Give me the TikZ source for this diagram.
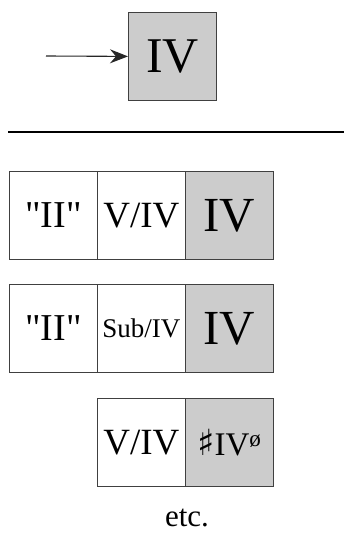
\documentclass[tikz,border=0pt]{standalone}
\usepackage{fontspec}
\setmainfont{Liberation Serif}
\newfontfamily\symfont{DejaVu Sans}
\usetikzlibrary{arrows.meta}
\tikzset{
  x=1pt,y=1pt,
  cell/.style={draw=black!75, line width=0.8pt, minimum width=88pt, minimum height=88pt, inner sep=0pt, anchor=north west},
  grey/.style={cell, fill=black!20},
  white/.style={cell, fill=white},
  bigtip/.tip={Stealth[length=18pt,width=14pt,inset=6pt]},
}
\newcommand{\fsz}[1]{\fontsize{#1}{#1}\selectfont}
\newcommand{\qII}{\textquotedbl II\textquotedbl}
\begin{document}
\begin{tikzpicture}
\useasboundingbox (0,0) rectangle (344,-533);
% top
\node[grey] (top) at (128,-12) {\fsz{50}IV};
\coordinate (start) at (46,-56);
\draw[line width=1.1pt, black!85, -bigtip] (start) -- (top.west);
% rule
\coordinate (ruleL) at (8,-132);
\coordinate (ruleR) at (344,-132);
\draw[line width=1.3pt] (ruleL) -- (ruleR);
% row 1
\node[white] (a1) at (9,-171) {\fsz{38}\qII};
\node[white] (b1) at (97,-171) {\fsz{37}V/IV};
\node[grey] (c1) at (185,-171) {\fsz{49}IV};
% row 2
\node[white] (a2) at (9,-284) {\fsz{38}\qII};
\node[white] (b2) at (97,-284) {\fsz{27}Sub/IV};
\node[grey] (c2) at (185,-284) {\fsz{49}IV};
% row 3
\node[white] (b3) at (97,-398) {\fsz{37}V/IV};
\node[grey] (c3) at (185,-398) {\fsz{33}{\symfont\fsz{36}♯}IV\textsuperscript{ø}};
% etc
\node[font=\fsz{31}] (etc) at (187,-518) {etc.};
\end{tikzpicture}
\end{document}
